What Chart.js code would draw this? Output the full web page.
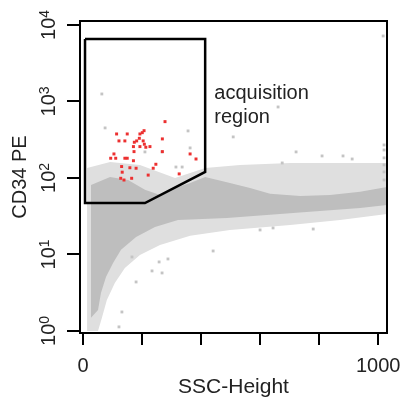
<!DOCTYPE html>
<html>
<head>
<meta charset="utf-8">
<script src="https://cdn.jsdelivr.net/npm/chart.js@4.4.1/dist/chart.umd.min.js"></script>
<style>
  body { margin: 0; background: #fff; }
  #wrap { width: 400px; height: 397px; }
</style>
</head>
<body>
<div id="wrap"><canvas id="facs" width="400" height="397"></canvas></div>
<script>
// events inside the acquisition region (red)
var redX = [114,150,193,201,207,191,122,142,182,204,171,193,213,227,174,208,105,173,94,111,142,150,171,131,159,180,133,128,139,165,238,221,278,269,247,326,363,383,269];
var redY = [376,376,376,391,415,330,305,305,305,305,257,257,252,257,293,276,206,221,181,181,181,181,168,141,136,134,119,99,94,99,134,109,545,324,151,113,206,177,221];

// scattered grey events outside the main cloud
var greyX = [64,75,356,661,509,722,810,881,912,675,1017,180,268,234,132,122,441,288,258,166,780,644,600,363,315,336,210,268,1020,1020,1020,1020,1020,1020];
var greyY = [1253,451,412,847,344,219,194,194,177,157,7180,4.37,5.73,6.09,1.77,1.13,11.1,8.73,7.98,9.27,21.5,22.2,20.9,247,139,139,219,219,270,232,183,148,120,94];

// gate polygon
var gateX = [7,414,414,210,7,7];
var gateY = [6560,6560,120,47,47,6560];

// dense part of the cloud, upper and lower edge
var denseTopX = [27,92,153,210,261,312,363,414,498,566,634,736,837,939,1030];
var denseTopY = [81,103,94,70,60,74,86,103,86,74,62,58,60,66,76];
var denseBotX = [27,51,61,78,102,129,180,244,322,488,712,939,1030];
var denseBotY = [1.48,1.88,3.14,5.08,7.74,11.5,16.9,22.9,28.2,30.0,34.9,40.5,44.4];

// sparse fringe round the cloud
var hazeTopX = [14,92,193,312,414,532,702,871,1030];
var hazeTopY = [135,162,148,100,135,148,157,157,157];
var hazeBotX = [14,51,64,81,108,142,193,261,363,498,702,871,1030];
var hazeBotY = [1,1,1.48,2.54,4.24,6.66,9.85,13.3,17.5,20.9,24.3,28.2,33.8];

var xTickValues = [0,200,400,600,800,1000];
var xTickLabels = ['0','','','','','1000'];
var yTickValues = [1,10,100,1000,10000];
var yTickExp = ['0','1','2','3','4'];

var noteLines = ['acquisition', 'region'];

var FONT = "'Liberation Sans', Arial, Helvetica, sans-serif";
var TEXT = '#222';

function pts(xs, ys) {
  return xs.map(function (v, i) { return {x: v, y: ys[i]}; });
}

var decor = {
  id: 'decor',
  afterDraw: function (chart) {
    var ctx = chart.ctx, a = chart.chartArea, x = chart.scales.x, y = chart.scales.y;
    ctx.save();
    ctx.strokeStyle = '#000';
    ctx.lineWidth = 2;
    ctx.strokeRect(a.left, a.top, a.right - a.left, a.bottom - a.top);

    // y tick labels: 10 with raised exponent, turned upright
    ctx.fillStyle = TEXT;
    ctx.textAlign = 'left';
    ctx.textBaseline = 'alphabetic';
    yTickValues.forEach(function (v, i) {
      ctx.font = '20px ' + FONT;
      var w1 = ctx.measureText('10').width;
      ctx.font = '14px ' + FONT;
      var w2 = ctx.measureText(yTickExp[i]).width;
      ctx.save();
      ctx.translate(55, y.getPixelForValue(v));
      ctx.rotate(-Math.PI / 2);
      ctx.font = '20px ' + FONT;
      ctx.fillText('10', -(w1 + w2) / 2, 0);
      ctx.font = '14px ' + FONT;
      ctx.fillText(yTickExp[i], -(w1 + w2) / 2 + w1, -6);
      ctx.restore();
    });

    ctx.font = '20px ' + FONT;
    ctx.fillText(noteLines[0], x.getPixelForValue(445), y.getPixelForValue(1080));
    ctx.fillText(noteLines[1], x.getPixelForValue(445), y.getPixelForValue(524));
    ctx.restore();
  }
};

new Chart(document.getElementById('facs'), {
  type: 'scatter',
  data: {
    datasets: [
      { data: pts(redX, redY), pointStyle: 'rect', pointRadius: 2.1, backgroundColor: '#ec3030', borderWidth: 0, order: 0 },
      { data: pts(gateX, gateY), showLine: true, borderColor: '#000', borderWidth: 2.5, pointRadius: 0, fill: false, tension: 0, borderJoinStyle: 'miter', order: 1 },
      { data: pts(greyX, greyY), pointStyle: 'rect', pointRadius: 2, backgroundColor: '#c4c4c4', borderWidth: 0, order: 2 },
      { data: pts(denseTopX, denseTopY), showLine: true, borderWidth: 0, pointRadius: 0, fill: 4, backgroundColor: '#bebebe', order: 3 },
      { data: pts(denseBotX, denseBotY), showLine: true, borderWidth: 0, pointRadius: 0, fill: false, order: 3 },
      { data: pts(hazeTopX, hazeTopY), showLine: true, borderWidth: 0, pointRadius: 0, fill: 6, backgroundColor: '#dfdfdf', order: 5 },
      { data: pts(hazeBotX, hazeBotY), showLine: true, borderWidth: 0, pointRadius: 0, fill: false, order: 5 }
    ]
  },
  options: {
    responsive: false,
    animation: false,
    devicePixelRatio: 1,
    layout: { padding: { top: 21, right: 13, bottom: 0, left: 0 } },
    plugins: { legend: { display: false }, tooltip: { enabled: false } },
    scales: {
      x: {
        type: 'linear', min: -10, max: 1030,
        afterBuildTicks: function (s) { s.ticks = xTickValues.map(function (v) { return {value: v}; }); },
        afterFit: function (s) { s.height = 64; s.paddingLeft = 0; s.paddingRight = 0; },
        ticks: {
          autoSkip: false, maxRotation: 0, padding: 9, color: TEXT,
          font: { size: 20, family: FONT },
          callback: function (v) { return xTickLabels[xTickValues.indexOf(v)]; }
        },
        grid: { drawOnChartArea: false, tickLength: 12, color: '#000', lineWidth: 2 },
        border: { display: true, color: '#000', width: 2 },
        title: { display: true, text: 'SSC-Height', color: TEXT, font: { size: 21, family: FONT }, padding: { top: 0, bottom: -3 } }
      },
      y: {
        type: 'logarithmic', min: 0.94, max: 11270,
        afterBuildTicks: function (s) { s.ticks = yTickValues.map(function (v) { return {value: v}; }); },
        afterFit: function (s) { s.width = 80; s.paddingTop = 0; s.paddingBottom = 0; },
        ticks: { autoSkip: false, callback: function () { return ''; } },
        grid: { drawOnChartArea: false, tickLength: 13, color: '#000', lineWidth: 2 },
        border: { display: true, color: '#000', width: 2 },
        title: { display: true, text: 'CD34 PE', color: TEXT, font: { size: 20, family: FONT }, padding: { top: 8, bottom: 0 } }
      }
    }
  },
  plugins: [decor]
});
</script>
</body>
</html>
